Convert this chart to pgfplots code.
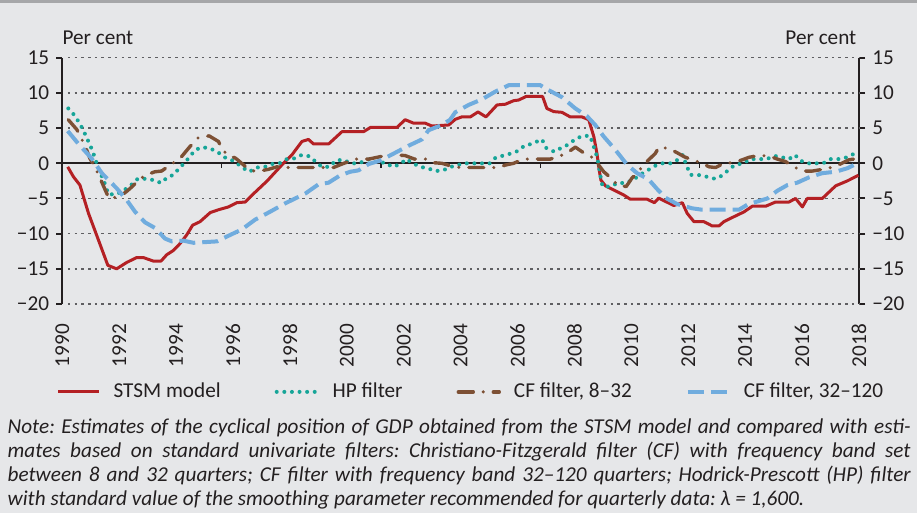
\documentclass[border=0pt]{standalone}
\usepackage{pgfplots}
\pgfplotsset{compat=1.18}
\usepackage{fontspec}
\setmainfont{Carlito}
\definecolor{bg}{RGB}{230,231,233}
\definecolor{band}{RGB}{166,167,169}
\definecolor{txt}{RGB}{35,31,32}
\definecolor{cred}{RGB}{180,32,36}
\definecolor{cteal}{RGB}{22,165,152}
\definecolor{cbrown}{RGB}{125,80,52}
\definecolor{cblue}{RGB}{112,172,222}
\definecolor{dotgray}{RGB}{95,95,98}
\begin{document}
\fontsize{21.2bp}{24bp}\selectfont
\begin{tikzpicture}
\fill[bg] (0bp,0bp) rectangle (917bp,513bp);
\fill[band] (0bp,510bp) rectangle (917bp,513bp);
\useasboundingbox (0bp,0bp) rectangle (917bp,513bp);
\begin{axis}[
  at={(62.3bp,209bp)}, anchor=south west,
  scale only axis, width=796.7bp, height=246.2bp,
  xmin=1990, xmax=2018, ymin=-20, ymax=15,
  separate axis lines,
  x axis line style={draw=none},
  y axis line style={line width=2.2bp, txt},
  ytick={-20,-15,...,15},
  yticklabels={−20,−15,−10,−5,0,5,10,15},
  ytick pos=both, yticklabel pos=left,
  tick align=outside, major tick length=6bp,
  ytick style={line width=2bp, txt},
  xtick={1990,1992,...,2018},
  xticklabels={1990,1992,1994,1996,1998,2000,2002,2004,2006,2008,2010,2012,2014,2016,2018},
  xtick style={draw=none},
  xticklabel style={rotate=90, anchor=east, inner sep=0pt},
  xticklabel shift=14bp,
  tick label style={text=txt},
  clip=false,
  legend style={at={(0.5115,-0.357)}, anchor=center, draw=none, fill=none,
    legend columns=-1, text=txt, nodes={inner sep=0pt},
    /tikz/every odd column/.append style={column sep=13bp},
    /tikz/every even column/.append style={column sep=54bp}},
  legend image code/.code={\draw[#1] (0bp,0bp) -- (41bp,0bp);},
]
\addplot[dotgray, line width=1.4bp, dash pattern=on 2.5bp off 4.2bp, forget plot] coordinates {(1990.2,15) (2018,15)};
\addplot[dotgray, line width=1.4bp, dash pattern=on 2.5bp off 4.2bp, forget plot] coordinates {(1990.2,10) (2018,10)};
\addplot[dotgray, line width=1.4bp, dash pattern=on 2.5bp off 4.2bp, forget plot] coordinates {(1990.2,5) (2018,5)};
\addplot[dotgray, line width=1.4bp, dash pattern=on 2.5bp off 4.2bp, forget plot] coordinates {(1990.2,-5) (2018,-5)};
\addplot[dotgray, line width=1.4bp, dash pattern=on 2.5bp off 4.2bp, forget plot] coordinates {(1990.2,-10) (2018,-10)};
\addplot[dotgray, line width=1.4bp, dash pattern=on 2.5bp off 4.2bp, forget plot] coordinates {(1990.2,-15) (2018,-15)};
\addplot[dotgray, line width=1.4bp, dash pattern=on 2.5bp off 4.2bp, forget plot] coordinates {(1990.2,-20) (2018,-20)};
\addplot[txt, line width=2bp, forget plot] coordinates {(1990,0) (2018,0)};
\draw[txt, line width=1.6bp] (axis cs:1995.6,0) -- (axis cs:1995.6,-0.7);
\draw[txt, line width=1.6bp] (axis cs:2001.2,0) -- (axis cs:2001.2,-0.7);
\draw[txt, line width=1.6bp] (axis cs:2006.8,0) -- (axis cs:2006.8,-0.7);
\draw[txt, line width=1.6bp] (axis cs:2012.4,0) -- (axis cs:2012.4,-0.7);

\addplot[cred, line width=3bp, line join=round] coordinates {
(1990.19,-0.5)(1990.39,-1.9)(1990.62,-3.1)(1990.92,-7.1)(1991.27,-10.9)(1991.6,-14.5)(1991.91,-15.0)(1992.26,-14.1)(1992.61,-13.4)(1992.85,-13.4)(1993.2,-13.9)(1993.47,-13.9)(1993.67,-13.0)(1993.9,-12.4)(1994.14,-11.4)(1994.37,-10.2)(1994.58,-8.8)(1994.84,-8.3)(1995.2,-7.0)(1995.49,-6.6)(1995.84,-6.2)(1996.13,-5.6)(1996.43,-5.5)(1996.78,-4.1)(1997.2,-2.5)(1997.77,0)(1998.07,1.2)(1998.42,3.1)(1998.65,3.4)(1998.83,2.75)(1999.36,2.75)(1999.83,4.5)(2000.59,4.5)(2000.83,5.1)(2001.76,5.1)(2002.05,6.2)(2002.35,5.7)(2002.76,5.7)(2002.99,5.3)(2003.58,5.45)(2003.81,6.25)(2004.04,6.6)(2004.34,6.6)(2004.61,7.3)(2004.89,6.6)(2005.28,8.3)(2005.57,8.4)(2005.86,8.9)(2006.04,9.0)(2006.3,9.5)(2006.88,9.5)(2007.03,7.8)(2007.27,7.35)(2007.56,7.25)(2007.85,6.6)(2008.26,6.6)(2008.5,6.2)(2008.68,3.8)(2008.79,1.4)(2008.87,-0.95)(2008.93,-2.4)(2009.09,-3.2)(2009.38,-3.8)(2009.73,-4.5)(2009.96,-5.1)(2010.55,-5.1)(2010.81,-5.6)(2010.96,-4.95)(2011.49,-6.0)(2011.79,-5.6)(2011.96,-7.1)(2012.2,-8.3)(2012.55,-8.3)(2012.84,-8.9)(2013.08,-8.9)(2013.25,-8.3)(2013.6,-7.6)(2013.96,-6.9)(2014.25,-6.1)(2014.72,-6.1)(2015.07,-5.5)(2015.54,-5.5)(2015.77,-5.0)(2016.01,-6.2)(2016.18,-5.0)(2016.71,-5.0)(2017.18,-3.2)(2017.59,-2.5)(2017.98,-1.7)
};
\addlegendentry{STSM model}

\addplot[cteal, line width=4bp, line cap=round, dash pattern=on 0bp off 7.6bp] coordinates {
(1990.21,7.8)(1990.39,7.0)(1990.56,6.0)(1990.7,5.0)(1990.83,3.9)(1990.95,2.8)(1991.06,1.8)(1991.15,0.7)(1991.24,-0.4)(1991.35,-1.5)(1991.47,-2.6)(1991.62,-4.4)(1991.91,-4.4)(1992.18,-3.8)(1992.44,-3.0)(1992.65,-2.2)(1992.93,-2.2)(1993.24,-2.4)(1993.47,-2.8)(1993.69,-2.0)(1993.93,-1.6)(1994.1,-0.7)(1994.31,0.1)(1994.49,1.0)(1994.67,1.9)(1994.92,2.3)(1995.2,2.1)(1995.47,1.6)(1995.66,0.9)(1995.9,0.6)(1996.17,-0.1)(1996.37,-0.7)(1996.58,-1.2)(1996.81,-0.6)(1997.09,-0.55)(1997.36,-0.1)(1997.63,0)(1997.89,0.6)(1998.16,0.7)(1998.42,1.2)(1998.69,1.0)(1998.91,0.2)(1999.12,-0.5)(1999.39,-0.5)(1999.61,0.4)(1999.88,0.5)(2000.14,0)(2000.41,0)(2000.81,0.6)(2001.05,0.1)(2001.35,0.1)(2001.6,-0.5)(2001.87,-0.15)(2002.09,0.6)(2002.32,0)(2002.58,-0.5)(2002.84,-0.7)(2003.11,-1.1)(2003.38,-1.0)(2003.66,-0.5)(2003.93,-0.2)(2004.19,0)(2004.45,0)(2004.75,0)(2005.02,0)(2005.24,0.85)(2005.51,1.1)(2005.77,1.4)(2006.01,1.75)(2006.24,2.5)(2006.48,2.75)(2006.86,3.4)(2007.0,2.2)(2007.29,1.65)(2007.54,2.2)(2007.8,2.7)(2008.03,3.45)(2008.29,3.9)(2008.55,3.9)(2008.64,2.8)(2008.73,1.75)(2008.8,0.8)(2008.85,-0.3)(2008.9,-1.4)(2008.94,-2.5)(2008.99,-3.3)(2009.26,-3.3)(2009.52,-2.8)(2009.81,-2.8)(2010.08,-2.3)(2010.32,-1.6)(2010.59,-0.95)(2010.84,-0.35)(2011.1,0)(2011.41,0)(2011.67,0.6)(2011.81,1.2)(2011.9,0.1)(2011.99,-0.8)(2012.08,-1.65)(2012.35,-1.65)(2012.64,-1.9)(2012.94,-2.2)(2013.19,-1.75)(2013.41,-0.95)(2013.63,-0.25)(2013.92,0)(2014.19,0.6)(2014.46,0.6)(2014.75,0.6)(2015.04,1.05)(2015.3,0.85)(2015.54,0.6)(2015.75,1.2)(2015.93,0.4)(2016.18,0)(2016.45,0)(2016.74,0)(2017.0,0.6)(2017.27,0.6)(2017.53,0.8)(2017.8,1.3)(2018.0,1.75)
};
\addlegendentry{HP filter}

\addplot[cbrown, line width=3.4bp, line cap=round, line join=round, dash pattern=on 15bp off 10bp on 0bp off 10bp] coordinates {
(1990.21,6.2)(1990.51,4.8)(1990.8,2.5)(1990.97,0.7)(1991.17,-0.7)(1991.38,-2.6)(1991.64,-5.0)(1992.03,-4.7)(1992.26,-4.0)(1992.46,-3.3)(1992.67,-2.4)(1992.97,-1.6)(1993.26,-1.2)(1993.49,-1.1)(1993.82,-0.15)(1994.14,0.7)(1994.49,2.4)(1994.78,3.65)(1995.16,3.9)(1995.49,3.1)(1995.6,2.1)(1995.78,1.3)(1996.1,0.7)(1996.42,-0.4)(1996.6,-1.0)(1996.88,-1.15)(1997.25,-0.85)(1997.54,-0.5)(1997.83,-0.6)(1998.19,-0.6)(1998.54,-0.6)(1999.07,-0.6)(1999.53,-0.6)(1999.83,-0.1)(2000.3,0.6)(2000.77,0.6)(2001.18,0.95)(2001.47,1.2)(2001.7,1.2)(2002.05,1.1)(2002.38,0.6)(2002.81,0.6)(2002.99,0.1)(2003.34,0)(2003.81,-0.55)(2004.22,-0.6)(2004.57,-0.6)(2004.98,-0.6)(2005.33,-0.6)(2005.57,-0.25)(2005.86,0)(2006.21,0.6)(2006.74,0.6)(2007.15,0.6)(2007.5,1.05)(2007.8,1.65)(2008.03,2.3)(2008.32,1.5)(2008.62,0.85)(2008.85,-0.25)(2009.03,-1.2)(2009.2,-1.8)(2009.52,-3.1)(2009.82,-3.3)(2010.02,-2.1)(2010.23,-1.3)(2010.37,-0.5)(2010.61,0.5)(2010.84,1.4)(2010.97,2.3)(2011.32,2.1)(2011.61,1.5)(2011.85,0.95)(2012.12,0.5)(2012.43,0.1)(2012.73,-0.5)(2012.96,-0.6)(2013.25,0)(2013.6,0.1)(2013.9,0.5)(2014.13,0.85)(2014.46,1.1)(2014.84,1.05)(2015.13,0.6)(2015.42,0.25)(2015.66,-0.4)(2016.01,-1.1)(2016.36,-1.1)(2016.89,-0.75)(2017.24,-0.3)(2017.65,0.5)(2017.98,0.7)
};
\addlegendentry{CF filter, 8–32}

\addplot[cblue, line width=4bp, dash pattern=on 16bp off 7bp] coordinates {
(1990.19,4.6)(1990.56,2.8)(1991.03,0.7)(1991.39,-1.4)(1991.91,-3.55)(1992.26,-5.2)(1992.56,-6.9)(1992.91,-8.4)(1993.26,-9.2)(1993.61,-10.7)(1993.85,-11.1)(1994.26,-11.0)(1994.61,-11.3)(1995.43,-11.1)(1995.84,-10.3)(1996.31,-9.4)(1996.78,-8.0)(1997.25,-7.0)(1997.83,-5.7)(1998.54,-4.3)(1999.0,-3.0)(1999.36,-2.75)(1999.77,-1.7)(2000.12,-1.2)(2000.41,-1.0)(2000.77,-0.1)(2001.18,0.4)(2001.7,1.5)(2002.17,2.5)(2002.64,3.4)(2002.87,4.7)(2003.34,5.45)(2003.63,6.2)(2003.81,7.25)(2004.28,8.3)(2004.75,9.1)(2005.22,10.2)(2005.69,11.1)(2006.27,11.1)(2006.8,11.1)(2007.09,10.4)(2007.56,9.4)(2008.03,7.8)(2008.44,6.7)(2008.73,5.45)(2009.03,3.8)(2009.44,1.9)(2009.85,-0.2)(2010.2,-1.4)(2010.61,-2.3)(2010.88,-3.55)(2011.2,-4.9)(2011.61,-5.8)(2012.14,-6.4)(2012.49,-6.6)(2013.78,-6.6)(2014.07,-5.9)(2014.37,-5.5)(2014.78,-5.0)(2015.13,-3.9)(2015.48,-3.1)(2015.83,-2.75)(2016.24,-2.0)(2016.71,-1.4)(2017.18,-1.2)(2017.59,-0.7)(2018.0,0.1)
};
\addlegendentry{CF filter, 32–120}
\end{axis}
\begin{axis}[
  at={(62.3bp,209bp)}, anchor=south west,
  scale only axis, width=796.7bp, height=246.2bp,
  xmin=1990, xmax=2018, ymin=-20, ymax=15,
  axis x line=none,
  axis y line*=right,
  y axis line style={draw=none},
  ytick={-20,-15,...,15},
  yticklabels={−20,−15,−10,−5,0,5,10,15},
  tick align=outside, major tick length=6bp,
  ytick style={draw=none},
  tick label style={text=txt},
]
\end{axis}
\node[anchor=base west, inner sep=0pt, text=txt] at (62.3bp,468bp) {Per cent};
\node[anchor=base east, inner sep=0pt, text=txt] at (856.5bp,468bp) {Per cent};
\node[anchor=base west, inner sep=0pt, text=txt, font=\itshape] at (7.5bp,79bp) {\parbox[t]{903bp}{\frenchspacing\hyphenpenalty=10000\emergencystretch=20bp
Note: Estimates of the cyclical position of GDP obtained from the STSM model and compared with esti-\linebreak mates based on standard univariate filters: Christiano-Fitzgerald filter (CF) with frequency band set\linebreak between 8 and 32 quarters; CF filter with frequency band 32–120 quarters; Hodrick-Prescott (HP) filter\linebreak with standard value of the smoothing parameter recommended for quarterly data: λ = 1,600.}};
\end{tikzpicture}
\end{document}
